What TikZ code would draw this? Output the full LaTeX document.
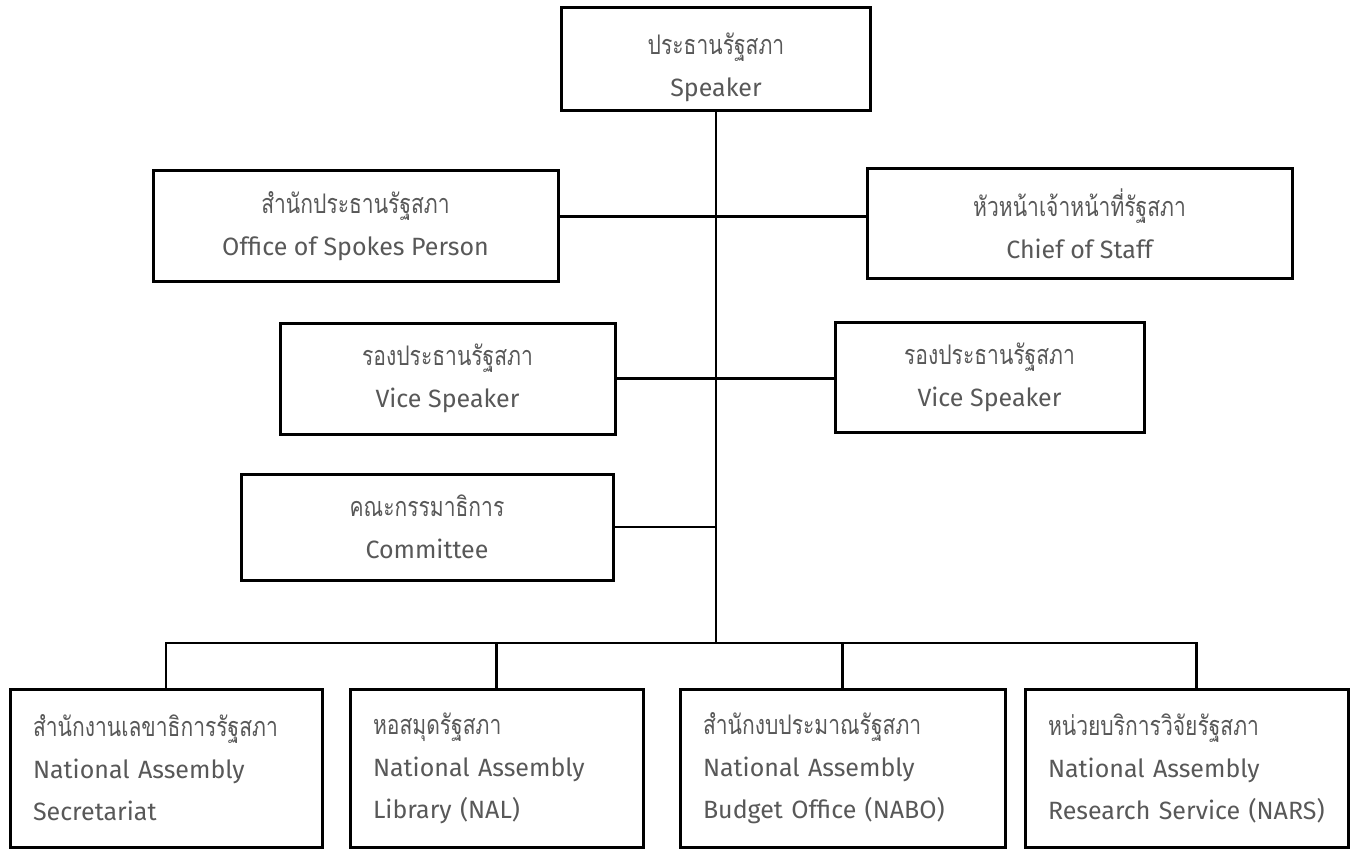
\documentclass[tikz,border=0pt]{standalone}
\usepackage{fontspec}
\setmainfont{Fira Sans}
\newfontfamily\thaifont[Script=Thai, FakeStretch=0.78]{Loma}
\newcommand\thl[1]{{\thaifont\fontsize{27}{42}\selectfont #1}}
\usepackage{tikz}
\usetikzlibrary{positioning}
\definecolor{inkgray}{HTML}{585858}

\begin{document}
\begin{tikzpicture}[
    x=1pt, y=-1pt,
    line width=2.6pt,
    box/.style={draw, line width=3pt, align=center, text=inkgray,
        font=\fontsize{25}{42}\selectfont, inner sep=0pt},
    unit/.style={box, align=left, inner xsep=23pt, text width=#1,
        minimum height=158pt}
]
    \useasboundingbox (0,0) rectangle (1357,850);

    % top of the chart
    \node[box, minimum width=309, minimum height=103] (speaker) at (716,59.5)
        {\rule{0pt}{38pt}\thl{ประธานรัฐสภา}\\Speaker};
    \node[box, minimum width=405, minimum height=111] (spokes) at (355.5,226.5)
        {\thl{สำนักประธานรัฐสภา}\\Office of Spokes Person};
    \node[box, minimum width=425, minimum height=110] (chief) at (1079.5,224)
        {\thl{หัวหน้าเจ้าหน้าที่รัฐสภา}\\Chief of Staff};
    \node[box, minimum width=335, minimum height=111] (viceL) at (447.5,378.5)
        {\thl{รองประธานรัฐสภา}\\Vice Speaker};
    \node[box, minimum width=309, minimum height=110] (viceR) at (989.5,377)
        {\thl{รองประธานรัฐสภา}\\Vice Speaker};
    \node[box, minimum width=372, minimum height=106] (committee) at (427,527)
        {\thl{คณะกรรมาธิการ}\\Committee};

    % offices
    \node[unit=266pt] (sec) at (166,768)
        {\thl{สำนักงานเลขาธิการรัฐสภา}\\National Assembly\\Secretariat};
    \node[unit=247pt] (lib) at (496.5,768)
        {\thl{หอสมุดรัฐสภา}\\National Assembly\\Library (NAL)};
    \node[unit=279pt] (budget) at (842.5,768)
        {\thl{สำนักงบประมาณรัฐสภา}\\National Assembly\\Budget Office (NABO)};
    \node[unit=277pt] (research) at (1186.5,768)
        {\thl{หน่วยบริการวิจัยรัฐสภา}\\National Assembly\\Research Service (NARS)};

    \coordinate (bus) at (speaker.south |- 0,643);

    \draw (speaker.south) -- (bus);
    \draw ([yshift=10pt]spokes.east) -- ([yshift=10pt]spokes.east -| chief.west);
    \draw (viceL.east) -- (viceL.east -| viceR.west);
    \draw (committee.east) -- (committee.east -| speaker.south);
    \draw (sec.north) |- (bus) -| ([xshift=10pt]research.north);
    \draw (lib.north) -- (lib.north |- bus);
    \draw (budget.north) -- (budget.north |- bus);
\end{tikzpicture}
\end{document}
